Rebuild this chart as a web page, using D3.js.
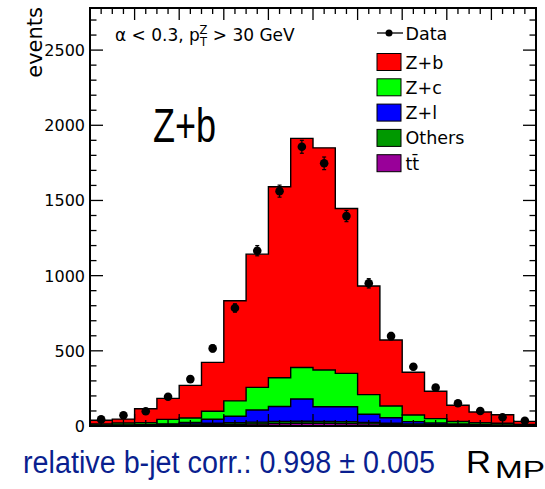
<!DOCTYPE html>
<html>
<head>
<meta charset="utf-8">
<script src="https://cdn.jsdelivr.net/npm/d3@7"></script>
<style>
  html, body { margin: 0; padding: 0; background: #fff; }
  svg { display: block; }
</style>
</head>
<body>
<svg id="chart" width="545" height="489"></svg>
<script>
// Bin lower edges of R_MP (20 bins, width 0.1)
const binLow = [0.0, 0.1, 0.2, 0.3, 0.4, 0.5, 0.6, 0.7, 0.8, 0.9,
                1.0, 1.1, 1.2, 1.3, 1.4, 1.5, 1.6, 1.7, 1.8, 1.9];
const binWidth = 0.1;

// Simulated contributions per bin (events)
const ttbar  = [1, 1, 2, 3, 5, 8, 10, 13, 16, 18, 18, 17, 14, 10, 7, 5, 3, 2, 1, 1];
const others = [3, 4, 5, 7, 8, 10, 12, 13, 14, 14, 13, 12, 10, 8, 7, 6, 5, 4, 3, 2];
const zl     = [1, 2, 2, 4, 11, 27, 43, 80, 100, 148, 97, 99, 54, 37, 15, 9, 6, 4, 3, 1];
const zc     = [8, 13, 13, 30, 29, 53, 102, 151, 191, 209, 244, 222, 131, 78, 44, 29, 16, 12, 11, 6];
const zb     = [25, 26, 93, 140, 217, 325, 666, 886, 1270, 1524, 1478, 1097, 722, 439, 284, 182, 108, 71, 57, 21];

// Measured data and statistical errors
const dataVals = [44, 71, 98, 195, 312, 516, 785, 1166, 1562, 1857, 1747, 1396, 949, 598, 394, 255, 151, 100, 58, 35];
const dataErr  = [7, 8, 10, 14, 18, 23, 28, 34, 40, 43, 42, 37, 31, 24, 20, 16, 12, 10, 8, 6];

const yTickLabels = ["0", "500", "1000", "1500", "2000", "2500"];

// Stack order, bottom to top
const layers = [
  { name: "t\u0074\u0304", vals: ttbar,  color: "#990099" },
  { name: "Others",          vals: others, color: "#009900" },
  { name: "Z+l",             vals: zl,     color: "#0000ff" },
  { name: "Z+c",             vals: zc,     color: "#00ff00" },
  { name: "Z+b",             vals: zb,     color: "#ff0000" }
];

const svg = d3.select("#chart");
const x = d3.scaleLinear().domain([0, 2]).range([90, 536]);
const y = d3.scaleLinear().domain([0, 2780]).range([426, 8]);

// cumulative sums
let running = binLow.map(() => 0);
layers.forEach(l => {
  running = running.map((r, i) => r + l.vals[i]);
  l.cum = running.slice();
});

const line = d3.line();
function stepPoints(cum) {
  const pts = [[x(binLow[0]), y(0)]];
  binLow.forEach((b, i) => {
    pts.push([x(b), y(cum[i])]);
    pts.push([x(b + binWidth), y(cum[i])]);
  });
  pts.push([x(binLow[binLow.length - 1] + binWidth), y(0)]);
  return pts;
}

const plot = svg.append("g");
// draw from the top of the stack downward so each layer overlays
layers.slice().reverse().forEach(l => {
  plot.append("path")
    .attr("d", line(stepPoints(l.cum)) + "Z")
    .attr("fill", l.color)
    .attr("stroke", "#000")
    .attr("stroke-width", 1.4)
    .attr("stroke-linejoin", "miter");
});

// Data points with error bars
const dg = svg.append("g");
binLow.forEach((b, i) => {
  const cx = x(b + binWidth / 2);
  const lo = y(dataVals[i] - dataErr[i]);
  const hi = y(dataVals[i] + dataErr[i]);
  dg.append("line").attr("x1", cx).attr("x2", cx).attr("y1", lo).attr("y2", hi)
    .attr("stroke", "#000").attr("stroke-width", 1.2);
  [lo, hi].forEach(yy => dg.append("line")
    .attr("x1", cx - 2).attr("x2", cx + 2).attr("y1", yy).attr("y2", yy)
    .attr("stroke", "#000").attr("stroke-width", 1.2));
  dg.append("circle").attr("cx", cx).attr("cy", y(dataVals[i])).attr("r", 4.3).attr("fill", "#000");
});

// Frame and ticks
const axes = svg.append("g").attr("stroke", "#000");
const xMajor = d3.range(0, 2.0001, 0.2);
const xMinor = d3.range(0, 2.0001, 0.05);
xMinor.forEach(v => {
  const isMajor = xMajor.some(m => Math.abs(m - v) < 1e-6);
  const len = isMajor ? 12 : 6;
  axes.append("line").attr("x1", x(v)).attr("x2", x(v)).attr("y1", y(0)).attr("y2", y(0) - len).attr("stroke-width", 1.3);
  axes.append("line").attr("x1", x(v)).attr("x2", x(v)).attr("y1", 8).attr("y2", 8 + len).attr("stroke-width", 1.3);
});
const yMinor = d3.range(0, 2780, 100);
yMinor.forEach(v => {
  const isMajor = v % 500 === 0;
  const len = isMajor ? 13 : 6.5;
  axes.append("line").attr("x1", 90).attr("x2", 90 + len).attr("y1", y(v)).attr("y2", y(v)).attr("stroke-width", 1.3);
  axes.append("line").attr("x1", 536).attr("x2", 536 - len).attr("y1", y(v)).attr("y2", y(v)).attr("stroke-width", 1.3);
});
svg.append("rect").attr("x", 90).attr("y", 8).attr("width", 446).attr("height", 418)
  .attr("fill", "none").attr("stroke", "#000").attr("stroke-width", 2);

// Y tick labels
yTickLabels.forEach(t => {
  svg.append("text").attr("x", 85).attr("y", y(+t) + 6)
    .attr("text-anchor", "end")
    .attr("font-family", "DejaVu Sans").attr("font-size", 16)
    .text(t);
});

// Y axis title
svg.append("text")
  .attr("transform", "translate(42,7) rotate(-90)")
  .attr("text-anchor", "end")
  .attr("font-family", "DejaVu Sans").attr("font-size", 21)
  .text("events");

// Selection annotation
const ann = svg.append("text").attr("x", 115).attr("y", 41)
  .attr("font-family", "DejaVu Sans").attr("font-size", 17);
ann.append("tspan").text("\u03b1 < 0.3, p");
ann.append("tspan").attr("font-size", 11.5).attr("dy", 5).text("T");
ann.append("tspan").attr("font-size", 11.5).attr("dx", -7.5).attr("dy", -12.5).text("Z");
ann.append("tspan").attr("dy", 7.5).text(" > 30 GeV");

// Big sample label
svg.append("text").attr("x", 153).attr("y", 142)
  .attr("font-family", "Liberation Sans").attr("font-size", 48)
  .attr("textLength", 63).attr("lengthAdjust", "spacingAndGlyphs")
  .text("Z+b");

// Legend
const lg = svg.append("g").attr("font-family", "DejaVu Sans").attr("font-size", 17.5);
lg.append("line").attr("x1", 377).attr("x2", 403).attr("y1", 33).attr("y2", 33).attr("stroke", "#000").attr("stroke-width", 1.3);
lg.append("circle").attr("cx", 389).attr("cy", 33).attr("r", 3.5).attr("fill", "#000");
lg.append("text").attr("x", 405.5).attr("y", 39.5).text("Data");
const legendRows = layers.slice().reverse();
legendRows.forEach((l, i) => {
  const cy = 62 + i * 25.3;
  lg.append("rect").attr("x", 377).attr("y", cy - 8.5).attr("width", 24).attr("height", 17)
    .attr("fill", l.color).attr("stroke", "#000").attr("stroke-width", 1);
  lg.append("text").attr("x", 405.5).attr("y", cy + 6.5).text(l.name);
});

// Bottom caption
svg.append("text").attr("x", 23).attr("y", 473)
  .attr("font-family", "Liberation Sans").attr("font-size", 31)
  .attr("fill", "#0a1f8f")
  .attr("textLength", 412).attr("lengthAdjust", "spacingAndGlyphs")
  .text("relative b-jet corr.: 0.998 \u00b1 0.005");

// X axis title
svg.append("text").attr("x", 466).attr("y", 473)
  .attr("font-family", "Liberation Sans").attr("font-size", 31)
  .attr("textLength", 25).attr("lengthAdjust", "spacingAndGlyphs")
  .text("R");
svg.append("text").attr("x", 495).attr("y", 478)
  .attr("font-family", "Liberation Sans").attr("font-size", 23)
  .attr("textLength", 50).attr("lengthAdjust", "spacingAndGlyphs")
  .text("MP");
</script>
</body>
</html>
